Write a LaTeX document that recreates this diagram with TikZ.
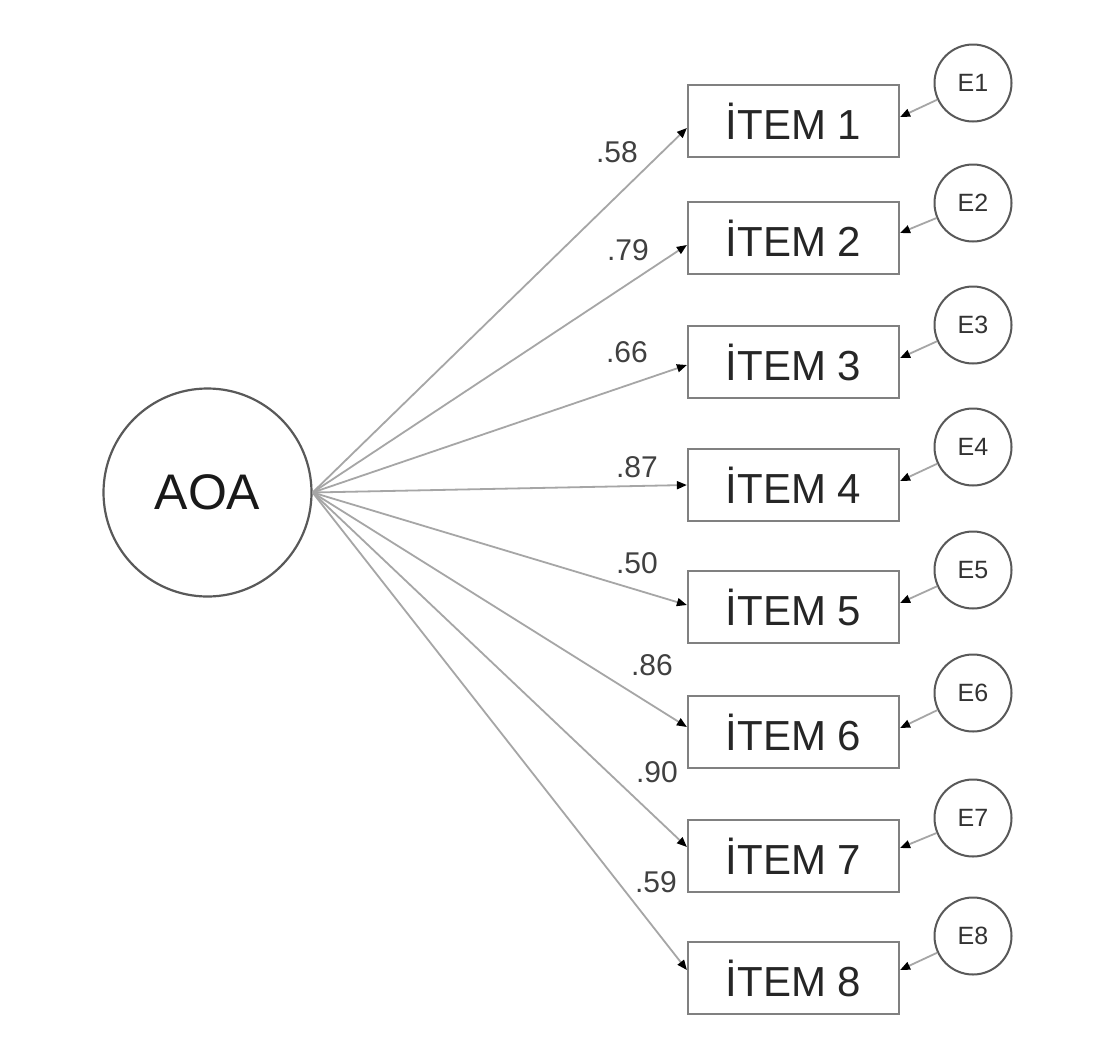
\documentclass[tikz,border=0pt]{standalone}
\usepackage{fontspec}
\setmainfont{Liberation Sans}
\usetikzlibrary{arrows.meta}
\begin{document}
\begin{tikzpicture}[x=1pt,y=-1pt,
 itembox/.style={draw=black!50, line width=2.2pt, minimum width=211pt, minimum height=72pt, inner sep=0pt, font=\fontsize{42}{42}\selectfont, text=black!85},
 errc/.style={circle, draw=black!65, line width=2pt, minimum size=77pt, inner sep=0pt, font=\fontsize{25}{25}\selectfont, text=black!80},
 latent/.style={circle, draw=black!65, line width=2.2pt, minimum size=208pt, inner sep=0pt, font=\fontsize{50}{50}\selectfont, text=black!90},
 load/.style={draw=black!35, line width=1.8pt, -{Triangle[length=10pt,width=8pt,color=black]}},
 errline/.style={draw=black!35, line width=1.8pt, -{Triangle[length=10pt,width=8pt,color=black]}},
 coef/.style={font=\fontsize{30}{30}\selectfont, text=black!75, inner sep=0pt}]
\fill[white] (0,0) rectangle (1111,1039);
\useasboundingbox (0,0) rectangle (1111,1039);

\node[latent] (aoa) at (207.5,492.5) {AOA};

\node[itembox] (i1) at (793.5,121) {İTEM 1};
\node[itembox] (i2) at (793.5,238) {İTEM 2};
\node[itembox] (i3) at (793.5,362) {İTEM 3};
\node[itembox] (i4) at (793.5,485) {İTEM 4};
\node[itembox] (i5) at (793.5,607) {İTEM 5};
\node[itembox] (i6) at (793.5,732) {İTEM 6};
\node[itembox] (i7) at (793.5,856) {İTEM 7};
\node[itembox] (i8) at (793.5,978) {İTEM 8};

\node[errc] (e1) at (973,83) {E1};
\node[errc] (e2) at (973,203) {E2};
\node[errc] (e3) at (973,325) {E3};
\node[errc] (e4) at (973,447) {E4};
\node[errc] (e5) at (973,570) {E5};
\node[errc] (e6) at (973,693) {E6};
\node[errc] (e7) at (973,818) {E7};
\node[errc] (e8) at (973,936) {E8};

\draw[load] (aoa.east) -- ([yshift=-7pt]i1.west);
\draw[load] (aoa.east) -- ([yshift=-7pt]i2.west);
\draw[load] (aoa.east) -- ([yshift=-3pt]i3.west);
\draw[load] (aoa.east) -- (i4.west);
\draw[load] (aoa.east) -- ([yshift=2pt]i5.west);
\draw[load] (aoa.east) -- ([yshift=5pt]i6.west);
\draw[load] (aoa.east) -- ([yshift=9pt]i7.west);
\draw[load] (aoa.east) -- ([yshift=8pt]i8.west);

\draw[errline] (e1) -- ([yshift=4pt]i1.east);
\draw[errline] (e2) -- ([yshift=5pt]i2.east);
\draw[errline] (e3) -- ([yshift=4pt]i3.east);
\draw[errline] (e4) -- ([yshift=4pt]i4.east);
\draw[errline] (e5) -- ([yshift=4pt]i5.east);
\draw[errline] (e6) -- ([yshift=4pt]i6.east);
\draw[errline] (e7) -- ([yshift=8pt]i7.east);
\draw[errline] (e8) -- ([yshift=8pt]i8.east);

\node[coef] (c1) at (617,152) {.58};
\node[coef] (c2) at (628,250) {.79};
\node[coef] (c3) at (627,352) {.66};
\node[coef] (c4) at (637,467) {.87};
\node[coef] (c5) at (637,563) {.50};
\node[coef] (c6) at (652,665) {.86};
\node[coef] (c7) at (657,772) {.90};
\node[coef] (c8) at (656,882) {.59};
\end{tikzpicture}
\end{document}
